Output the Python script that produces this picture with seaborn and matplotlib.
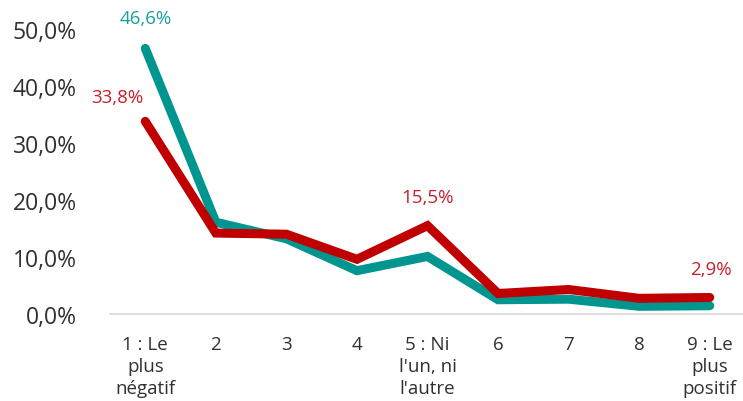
import matplotlib
matplotlib.use("Agg")
import matplotlib.pyplot as plt
import seaborn as sns
import pandas as pd
from matplotlib.ticker import FuncFormatter

categories = ["1 : Le\nplus\nnégatif", "2", "3", "4", "5 : Ni\nl'un, ni\nl'autre",
              "6", "7", "8", "9 : Le\nplus\npositif"]
serie_a = [46.6, 16.1, 13.2, 7.6, 10.1, 2.5, 2.6, 1.35, 1.45]
serie_b = [33.8, 14.2, 14.0, 9.6, 15.5, 3.6, 4.3, 2.75, 2.9]
y_ticks = [0, 10, 20, 30, 40, 50]

TEAL = "#00968F"
RED = "#C00000"

df = pd.DataFrame({
    "pos": list(range(len(categories))) * 2,
    "val": serie_a + serie_b,
    "serie": ["A"] * len(categories) + ["B"] * len(categories),
})

sns.set_style("white")
plt.rcParams["font.family"] = ["Open Sans", "DejaVu Sans"]

fig = plt.figure(figsize=(7.43, 4.02), dpi=100)
ax = fig.add_axes([110 / 743, 1 - 315 / 402, 635 / 743, 285 / 402])

sns.lineplot(data=df, x="pos", y="val", hue="serie",
             palette={"A": TEAL, "B": RED}, linewidth=6.5,
             legend=False, ax=ax, solid_capstyle="round",
             solid_joinstyle="miter")
# draw red series above the teal one
lines = ax.get_lines()
lines[1].set_zorder(3)
lines[0].set_zorder(2)

ax.set_xlim(-0.5, len(categories) - 0.5)
ax.set_ylim(0, 50)
ax.set_yticks(y_ticks)
ax.yaxis.set_major_formatter(FuncFormatter(lambda v, p: f"{v:.1f}%".replace(".", ",")))
ax.set_xticks(range(len(categories)))
ax.set_xticklabels(categories, linespacing=1.28)
ax.tick_params(axis="y", labelsize=16.5, colors="#303030", length=0, pad=24)
ax.tick_params(axis="x", labelsize=13.5, colors="#303030", length=0, pad=15)
ax.set_xlabel("")
ax.set_ylabel("")

for side in ("left", "right", "top"):
    ax.spines[side].set_visible(False)
ax.spines["bottom"].set_color("#D9D9D9")
ax.spines["bottom"].set_linewidth(1.2)
ax.spines["bottom"].set_zorder(1)

def pct(v):
    return f"{v:.1f}%".replace(".", ",")

lab_kw = dict(fontsize=13.5, clip_on=False)
ax.annotate(pct(serie_a[0]), (0, serie_a[0]), xytext=(0, 15.5), textcoords="offset points",
            ha="center", va="bottom", color="#1AA09A", **lab_kw)
ax.annotate(pct(serie_b[0]), (0, serie_b[0]), xytext=(-20, 11), textcoords="offset points",
            ha="center", va="bottom", color="#C8202A", **lab_kw)
ax.annotate(pct(serie_b[4]), (4, serie_b[4]), xytext=(0, 14), textcoords="offset points",
            ha="center", va="bottom", color="#C8202A", **lab_kw)
ax.annotate(pct(serie_b[8]), (8, serie_b[8]), xytext=(1, 14), textcoords="offset points",
            ha="center", va="bottom", color="#C8202A", **lab_kw)

fig.savefig("out.png", dpi=100)
